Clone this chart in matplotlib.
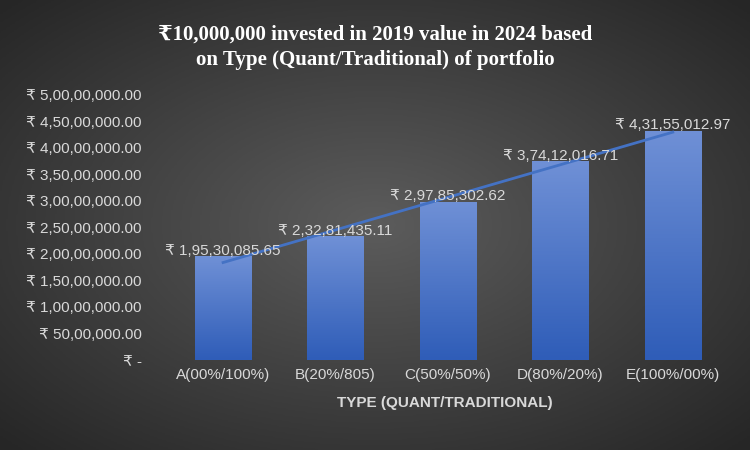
import numpy as np
import matplotlib
matplotlib.use('Agg')
import matplotlib.pyplot as plt
from matplotlib.colors import LinearSegmentedColormap

categories = ['A(00%/100%)', 'B(20%/805)', 'C(50%/50%)', 'D(80%/20%)', 'E(100%/00%)']
values = [19530085.65, 23281435.11, 29785302.62, 37412016.71, 43155012.97]
yticks = np.arange(0, 50000001, 5000000)

SANS = ['Liberation Sans', 'DejaVu Sans']
SERIF = ['Liberation Serif', 'DejaVu Serif']


def indian(v):
    if v == 0:
        return '₹ -'
    s = f"{v:.2f}"
    ip, fp = s.split('.')
    if len(ip) > 3:
        head, tail = ip[:-3], ip[-3:]
        groups = []
        while len(head) > 2:
            groups.insert(0, head[-2:])
            head = head[:-2]
        if head:
            groups.insert(0, head)
        ip = ','.join(groups) + ',' + tail
    return '₹ ' + ip + '.' + fp


fig = plt.figure(figsize=(7.5, 4.5), dpi=100)
# radial background
bg = fig.add_axes([0, 0, 1, 1])
yy, xx = np.mgrid[-1:1:300j, -1:1:500j]
r = np.sqrt(xx ** 2 + yy ** 2)
bg_cmap = LinearSegmentedColormap.from_list('bg', ['#5c5c5c', '#262626'])
bg.imshow(r, cmap=bg_cmap, aspect='auto', extent=[0, 1, 0, 1], vmin=0, vmax=1.4)
bg.axis('off')

ax = fig.add_axes([0.2, 0.2, 0.787, 0.59])
ax.patch.set_alpha(0)
x = np.arange(len(categories))
bars = ax.bar(x, values, width=0.5, color='#4472c4', zorder=2)
grad = np.linspace(0, 1, 100).reshape(-1, 1)
bar_cmap = LinearSegmentedColormap.from_list('bar', ['#2f5db8', '#6f90d6'])
for b in bars:
    im = ax.imshow(grad, cmap=bar_cmap, aspect='auto', origin='lower', zorder=3,
                   extent=[b.get_x(), b.get_x() + b.get_width(), 0, b.get_height()])
    im.set_clip_path(b)

coef = np.polyfit(x, values, 1)
ax.plot(x, np.polyval(coef, x), color='#4472c4', lw=2, zorder=4)

for xi, v in zip(x, values):
    ax.text(xi, v - 300000, indian(v), ha='center', va='bottom', color='#d9d9d9',
            fontsize=11, family=SANS, zorder=5)

ax.set_xlim(-0.65, 4.6)
ax.set_ylim(0, 50000000)
ax.set_yticks(yticks)
ax.set_yticklabels([indian(v) for v in yticks], color='#d9d9d9', fontsize=11,
                   family=SANS)
ax.set_xticks(x)
ax.set_xticklabels(categories, color='#d9d9d9', fontsize=11, family=SANS)
ax.tick_params(length=0, pad=6)
for s in ax.spines.values():
    s.set_visible(False)
ax.set_xlabel('TYPE (QUANT/TRADITIONAL)', color='#d9d9d9', fontsize=11,
              family=SANS, fontweight='bold', labelpad=10)

fig.text(0.5, 0.895, '₹10,000,000 invested in 2019 value in 2024 based\non Type (Quant/Traditional) of portfolio',
         ha='center', va='center', color='white', fontsize=15, fontweight='bold',
         family=SERIF, linespacing=1.3)

fig.savefig('out.png', dpi=100)
